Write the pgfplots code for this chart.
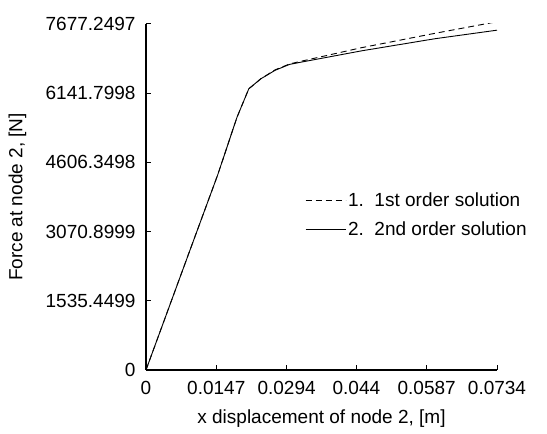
\documentclass[border=0pt]{standalone}
\usepackage{pgfplots}
\pgfplotsset{compat=1.18}
\usepackage{fontspec}
\setmainfont{Liberation Sans}
\begin{document}
\begin{tikzpicture}
\begin{axis}[
    scale only axis,
    width=351pt,
    height=346pt,
    xmin=0, xmax=0.0734,
    ymin=0, ymax=7677.2497,
    axis lines*=left,
    axis line style={line width=1.1pt},
    tick align=inside,
    major tick length=5pt,
    tick style={line width=1pt, black},
    scaled ticks=false,
    xtick={0,0.0147,0.0294,0.044,0.0587,0.0734},
    xticklabels={0,0.0147,0.0294,0.044,0.0587,0.0734},
    ytick={0,1535.4499,3070.8999,4606.3498,6141.7998,7677.2497},
    yticklabels={0,1535.4499,3070.8999,4606.3498,6141.7998,7677.2497},
    font=\fontsize{19}{23}\selectfont,
    yticklabel style={xshift=-7pt},
    xticklabel style={yshift=-8pt},
    xlabel={x displacement of node 2, [m]},
    ylabel={Force at node 2, [N]},
    xlabel style={at={(axis description cs:0.5,-0.139)}, anchor=center},
    ylabel style={at={(axis description cs:-0.366,0.5)}, anchor=center},
    legend style={draw=none, fill=none, at={(0.453,0.448)}, anchor=west,
        inner sep=0pt, row sep=9pt, font=\fontsize{19}{23}\selectfont},
    legend cell align=left,
    legend image code/.code={\draw[#1] (0pt,0pt) -- (40pt,0pt);},
]
\addplot[black, line width=0.9pt, dash pattern=on 6pt off 4pt] coordinates {
    (0,0) (0.0092,2660) (0.0150,4330) (0.0190,5600) (0.0215,6240)
    (0.0240,6460) (0.0270,6660) (0.0300,6790) (0.0324,6850)
    (0.0450,7150) (0.0604,7470) (0.0725,7710)
};
\addplot[black, line width=0.9pt] coordinates {
    (0,0) (0.0092,2660) (0.0150,4330) (0.0190,5600) (0.0215,6240)
    (0.0240,6460) (0.0270,6650) (0.0300,6780) (0.0324,6830)
    (0.0450,7080) (0.0604,7350) (0.0734,7540)
};
\legend{1.\ \ 1st order solution, 2.\ \ 2nd order solution}
\end{axis}
\path (current axis.south west) ++(-146pt,-64pt) rectangle ++(547pt,434pt);
\end{tikzpicture}
\end{document}
